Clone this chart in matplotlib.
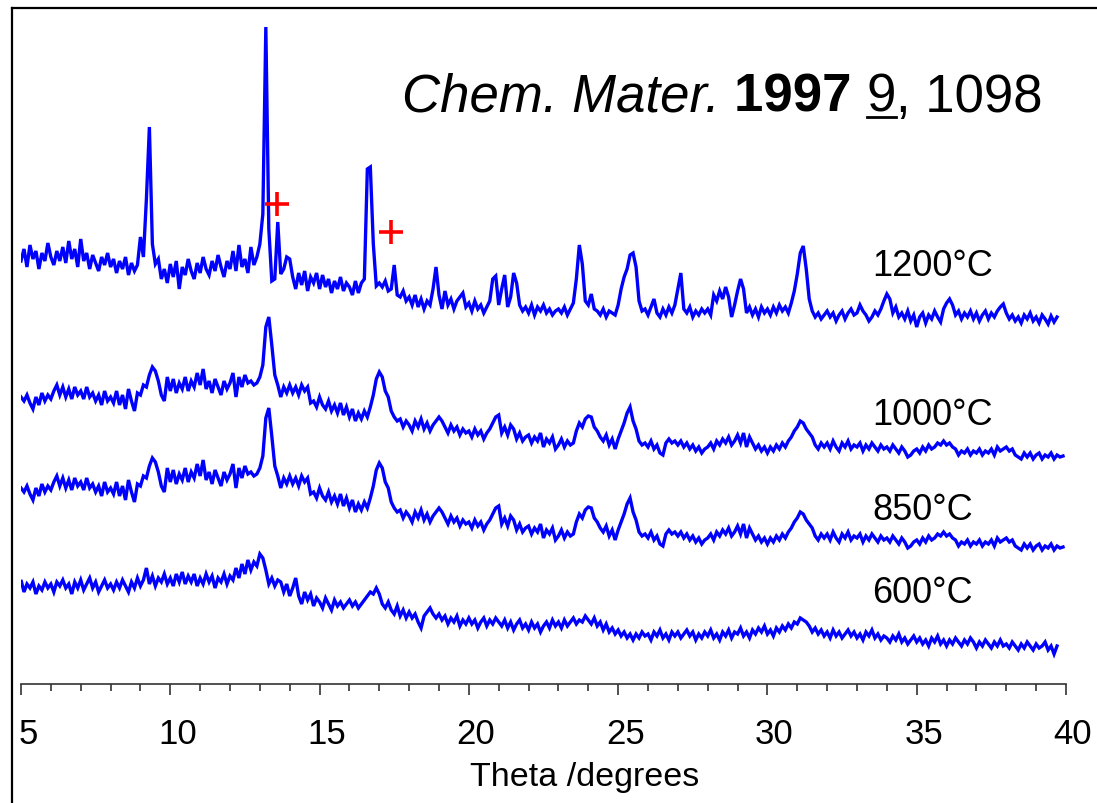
import numpy as np
import matplotlib
matplotlib.use("Agg")
import matplotlib.pyplot as plt
from matplotlib.lines import Line2D
from matplotlib.transforms import ScaledTranslation

# XRD patterns, 0.1 degree steps
STEP = 0.1
START_1200 = 5.0
counts_1200 = [
    58, 70, 52, 74, 60, 68, 50, 66, 58, 76,
    62, 54, 68, 58, 72, 56, 78, 60, 70, 52,
    80, 58, 66, 50, 64, 56, 48, 62, 54, 66,
    52, 60, 46, 58, 50, 62, 44, 56, 48, 54,
    82, 62, 120, 192, 75, 55, 60, 40, 50, 36,
    55, 42, 58, 30, 52, 44, 60, 48, 40, 56,
    46, 62, 50, 44, 58, 48, 64, 52, 42, 58,
    50, 68, 48, 74, 52, 60, 46, 72, 54, 62,
    75, 105, 292, 90, 38, 40, 97, 45, 50, 62,
    60, 42, 30, 46, 34, 48, 28, 42, 36, 46,
    30, 44, 32, 40, 26, 38, 30, 42, 28, 36,
    32, 24, 38, 26, 36, 40, 150, 152, 75, 33,
    36, 32, 38, 28, 30, 54, 24, 22, 28, 18,
    22, 14, 24, 12, 20, 10, 18, 14, 30, 52,
    24, 10, 28, 14, 20, 10, 18, 22, 26, 12,
    16, 8, 18, 10, 14, 6, 12, 18, 40, 43,
    14, 30, 44, 12, 22, 46, 36, 14, 8, 12,
    6, 14, 4, 12, 8, 14, 6, 10, 4, 8,
    10, 6, 12, 4, 10, 16, 40, 74, 55, 18,
    14, 25, 10, 8, 4, 10, 2, 8, 6, 4,
    14, 30, 42, 50, 64, 66, 52, 18, 8, 10,
    4, 12, 20, 6, 2, 10, 4, 12, 6, 14,
    30, 46, 10, 6, 12, 2, 8, 4, 10, 6,
    10, 4, 24, 18, 28, 20, 32, 22, 2, 14,
    28, 40, 30, 6, 12, 4, 10, 2, 12, 6,
    10, 4, 12, 6, 14, 8, 12, 6, 16, 28,
    45, 66, 73, 50, 20, 8, 2, 6, 0, 4,
    8, 2, 6, -2, 4, 8, 0, 6, 10, 4,
    6, 14, 8, 4, -2, 2, 8, 4, 10, 18,
    25, 20, 6, 12, 2, 6, 0, 8, -2, 4,
    -8, 2, 6, -4, 4, 0, 8, 2, -3, 10,
    16, 20, 14, 4, 8, 0, 6, 2, 8, 0,
    6, -2, 4, 8, 0, 6, 2, 8, 12, 15,
    6, 0, 4, -2, 2, -4, 4, 0, 6, -2,
    2, -4, 4, 0, -5, 3, -3, 2,
]

START_1000 = 5.0
counts_1000 = [
    60, 56, 62, 54, 48, 60, 52, 64, 56, 62,
    58, 66, 72, 62, 70, 60, 68, 58, 70, 62,
    66, 58, 70, 60, 64, 56, 62, 52, 66, 56,
    60, 54, 66, 52, 62, 48, 68, 56, 46, 64,
    62, 72, 70, 82, 90, 86, 76, 62, 56, 80,
    66, 78, 64, 74, 68, 80, 66, 76, 70, 84,
    72, 88, 68, 76, 64, 78, 70, 62, 76, 68,
    74, 84, 60, 80, 70, 82, 74, 76, 72, 74,
    80, 92, 130, 140, 112, 82, 72, 60, 70, 64,
    72, 64, 70, 62, 72, 66, 70, 54, 56, 50,
    60, 52, 48, 56, 46, 52, 44, 54, 42, 50,
    40, 48, 36, 44, 38, 46, 40, 50, 62, 78,
    85, 80, 66, 60, 46, 40, 36, 38, 30, 36,
    32, 26, 36, 30, 38, 28, 34, 26, 32, 36,
    40, 36, 30, 24, 32, 26, 30, 22, 28, 24,
    26, 20, 28, 22, 26, 18, 24, 28, 34, 40,
    42, 24, 30, 22, 32, 28, 18, 24, 16, 20,
    22, 14, 20, 16, 24, 10, 18, 14, 20, 8,
    12, 18, 10, 16, 12, 14, 26, 34, 30, 38,
    41, 40, 30, 26, 20, 16, 22, 12, 18, 8,
    18, 26, 34, 44, 50, 36, 28, 16, 12, 14,
    10, 16, 8, 12, 4, 2, 14, 18, 14, 16,
    12, 16, 10, 14, 8, 12, 6, 10, 4, 8,
    10, 14, 8, 16, 12, 18, 14, 20, 12, 16,
    22, 14, 24, 10, 20, 14, 8, 12, 6, 10,
    4, 10, 6, 12, 8, 14, 10, 16, 20, 26,
    30, 36, 34, 28, 24, 20, 12, 8, 14, 10,
    14, 8, 16, 10, 6, 14, 10, 16, 8, 12,
    10, 14, 6, 12, 8, 14, 10, 6, 12, 8,
    10, 6, 12, 8, 4, 10, 6, 0, 2, 6,
    8, 4, 10, 6, 12, 8, 10, 14, 12, 16,
    12, 14, 10, 8, 2, 6, 4, 8, 2, 6,
    4, 8, 2, 6, 4, 8, 2, 10, 6, 8,
    10, 6, 8, 2, 0, -2, 4, 0, 4, -2,
    2, 4, -2, 2, 0, 4, -2, 2, 0, 1,
]

# the 850 C scan is drawn identical to the 1000 C scan in the source figure
START_850 = 5.0
counts_850 = list(counts_1000)

START_600 = 4.9
counts_600 = [
    55,
    64, 52, 60, 56, 62, 50, 58, 54, 62, 56,
    60, 52, 62, 58, 64, 56, 60, 50, 62, 56,
    64, 54, 60, 66, 56, 62, 52, 58, 64, 56,
    60, 54, 62, 56, 64, 58, 52, 62, 56, 66,
    58, 64, 76, 60, 68, 58, 66, 62, 70, 60,
    66, 58, 70, 62, 72, 60, 68, 62, 70, 58,
    66, 60, 70, 62, 68, 56, 66, 62, 70, 60,
    68, 64, 76, 66, 80, 70, 84, 74, 82, 78,
    90, 86, 74, 60, 66, 58, 64, 62, 52, 60,
    48, 56, 66, 48, 40, 52, 44, 50, 38, 46,
    42, 36, 46, 40, 34, 44, 38, 42, 36, 40,
    44, 38, 42, 36, 40, 44, 48, 52, 50, 56,
    50, 40, 36, 42, 34, 30, 38, 28, 34, 26,
    32, 26, 30, 22, 16, 28, 32, 36, 30, 26,
    30, 24, 28, 20, 26, 22, 28, 18, 24, 20,
    26, 20, 24, 16, 22, 26, 18, 24, 20, 26,
    22, 18, 24, 16, 22, 14, 20, 24, 16, 20,
    14, 22, 16, 20, 12, 18, 22, 16, 24, 18,
    22, 16, 24, 18, 22, 26, 20, 24, 22, 28,
    24, 20, 26, 18, 22, 14, 20, 12, 16, 10,
    14, 8, 12, 6, 10, 4, 10, 6, 12, 8,
    10, 4, 12, 8, 14, 6, 10, 4, 12, 8,
    12, 6, 10, 14, 8, 12, 4, 10, 6, 12,
    8, 14, 6, 10, 4, 12, 8, 14, 6, 12,
    10, 16, 8, 12, 6, 14, 10, 16, 12, 18,
    10, 14, 8, 16, 12, 18, 14, 20, 16, 22,
    20, 26, 24, 22, 18, 12, 16, 10, 14, 8,
    12, 6, 14, 8, 12, 6, 10, 14, 8, 12,
    6, 10, 4, 12, 8, 14, 6, 10, 4, 8,
    6, 2, 8, 4, 10, 2, 6, 0, 4, 8,
    2, 6, 0, 4, -2, 6, 2, 8, 0, 4,
    -2, 4, 0, 6, 2, -2, 4, 0, 6, 2,
    -4, 2, -2, 4, 0, -4, 2, -2, 4, -2,
    0, -4, 2, -2, -6, 0, -4, 2, -2, -6,
    0, -4, -2, 2, -6, -2, -10, -2,
]

labels = ["1200°C", "1000°C", "850°C", "600°C"]
starts = [START_1200, START_1000, START_850, START_600]
series = [counts_1200, counts_1000, counts_850, counts_600]
impurity_peaks = [13.58, 17.40]

# vertical stacking offsets (arbitrary units, same scale as counts)
offsets = [365, 227, 136, 40]
label_y = [409, 260, 165, 82]
cross_y = [480, 452]

plt.rcParams['font.family'] = ['Liberation Sans', 'DejaVu Sans']

W, H = 1097, 804
fig = plt.figure(figsize=(W / 100, H / 100), dpi=100)
ax = fig.add_axes([21 / W, 1 - 685 / H, (1066 - 21) / W, (685 - 9) / H])

for start, vals, off in zip(starts, series, offsets):
    tt = np.round(start + STEP * np.arange(len(vals)), 2)
    ax.plot(tt, np.array(vals) + off, color='#0000ff', lw=2.4, solid_joinstyle='miter')

for lab, ly in zip(labels, label_y):
    ax.text(33.5, ly, lab, fontsize=26, va='baseline', ha='left')

ax.plot(impurity_peaks, cross_y, ls='none', marker='+', ms=17, mew=2.6, color='#ff0000')

ax.set_xlim(5, 40)
ax.set_ylim(0, 676)
for s in ['left', 'right', 'top']:
    ax.spines[s].set_visible(False)
ax.spines['bottom'].set_linewidth(1.2)
ax.spines['bottom'].set_color('#333333')
ax.set_yticks([])
ax.set_xticks(range(5, 41, 5))
ax.set_xticks(range(5, 41), minor=True)
ax.tick_params(axis='x', which='major', length=8, width=1.2, color='#333333',
               labelsize=25, pad=16)
ax.tick_params(axis='x', which='minor', length=5, width=1.2, color='#333333')
shift = ScaledTranslation(7 / 100, 0, fig.dpi_scale_trans)
for lbl in ax.get_xticklabels():
    lbl.set_transform(lbl.get_transform() + shift)
ax.patch.set_visible(False)

fig.text(585 / W, 1 - 786 / H, "Theta /degrees", fontsize=24.5, ha='center', va='baseline')

# frame lines of the original picture
fig.add_artist(Line2D([12 / W, 12 / W], [0, 1 - 9 / H], transform=fig.transFigure,
                      color='black', lw=1.6))
fig.add_artist(Line2D([12 / W, 1], [1 - 9 / H, 1 - 9 / H], transform=fig.transFigure,
                      color='black', lw=1.6))

# citation, written piece by piece
fig.canvas.draw()
r = fig.canvas.get_renderer()
x = 402 / W
base = 1 - 112 / H
pieces = [("Chem. Mater. ", dict(style='italic')),
          ("1997 ", dict(weight='bold')),
          ("9", dict()),
          (", 1098", dict())]
for txt, kw in pieces:
    t = fig.text(x, base, txt, fontsize=38, va='baseline', ha='left', **kw)
    bb = t.get_window_extent(r)
    if txt == "9":
        fig.add_artist(Line2D([bb.x0 / W, bb.x1 / W], [base - 6 / H, base - 6 / H],
                              transform=fig.transFigure, color='black', lw=2))
    x += bb.width / W

fig.savefig("out.png", dpi=100)
